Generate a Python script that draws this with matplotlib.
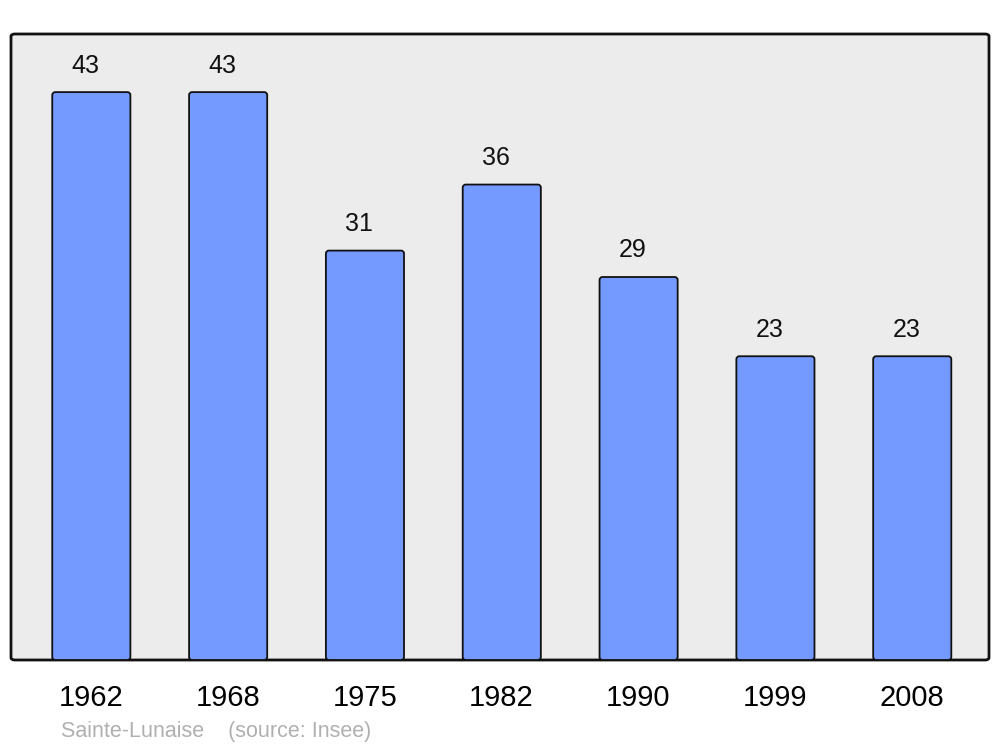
import matplotlib
matplotlib.use("Agg")
import matplotlib.pyplot as plt
from matplotlib.patches import FancyBboxPatch

annees = ["1962", "1968", "1975", "1982", "1990", "1999", "2008"]
population = [43, 43, 31, 36, 29, 23, 23]
commune = "Sainte-Lunaise"
source = "(source: Insee)"

plt.rcParams['font.family'] = ['Liberation Sans', 'DejaVu Sans']

fig = plt.figure(figsize=(10, 7.47), dpi=100)
# axes box: x 11..989 px, y 34..660 px
ax = fig.add_axes([11 / 1000, 1 - 660 / 747, 978 / 1000, 626 / 747])
ax.set_facecolor("none")

# cadre gris aux coins arrondis
cadre = FancyBboxPatch((0, 0), 1, 1, boxstyle="round,pad=0,rounding_size=0.004",
                       transform=ax.transAxes, facecolor="#ececec",
                       edgecolor="#111111", linewidth=2, zorder=0, clip_on=False)
ax.add_patch(cadre)

x = list(range(len(annees)))
barres = ax.bar(x, population, width=0.575, color="#7499ff", edgecolor="#111111",
                linewidth=1.3, zorder=2)

# remplace chaque barre par une boite aux coins arrondis
for b in barres:
    b.set_visible(False)
    arrondi = FancyBboxPatch((b.get_x() + 0.004, b.get_y()), b.get_width() - 0.004, b.get_height(),
                             boxstyle="round,pad=0,rounding_size=0.022",
                             mutation_aspect=10.4, facecolor="#7499ff",
                             edgecolor="#111111", linewidth=1.3, zorder=2)
    ax.add_patch(arrondi)

for xi, v in zip(x, population):
    ax.text(xi - 0.04, v + 1.1, str(v), ha="center", va="bottom", fontsize=18,
            color="#111111", zorder=3)

ax.set_xlim(-0.585, 6.563)
ax.set_ylim(0, 47.4)
for s in ax.spines.values():
    s.set_visible(False)
ax.set_yticks([])
ax.set_xticks(x)
ax.set_xticklabels(annees, fontsize=21)
ax.tick_params(axis="x", length=0, pad=17)

fig.text(61 / 1000, 1 - 732 / 747, commune + "    " + source, fontsize=15.5,
         color="#b0b0b0", va="center", ha="left")

fig.savefig("out.png", dpi=100)
